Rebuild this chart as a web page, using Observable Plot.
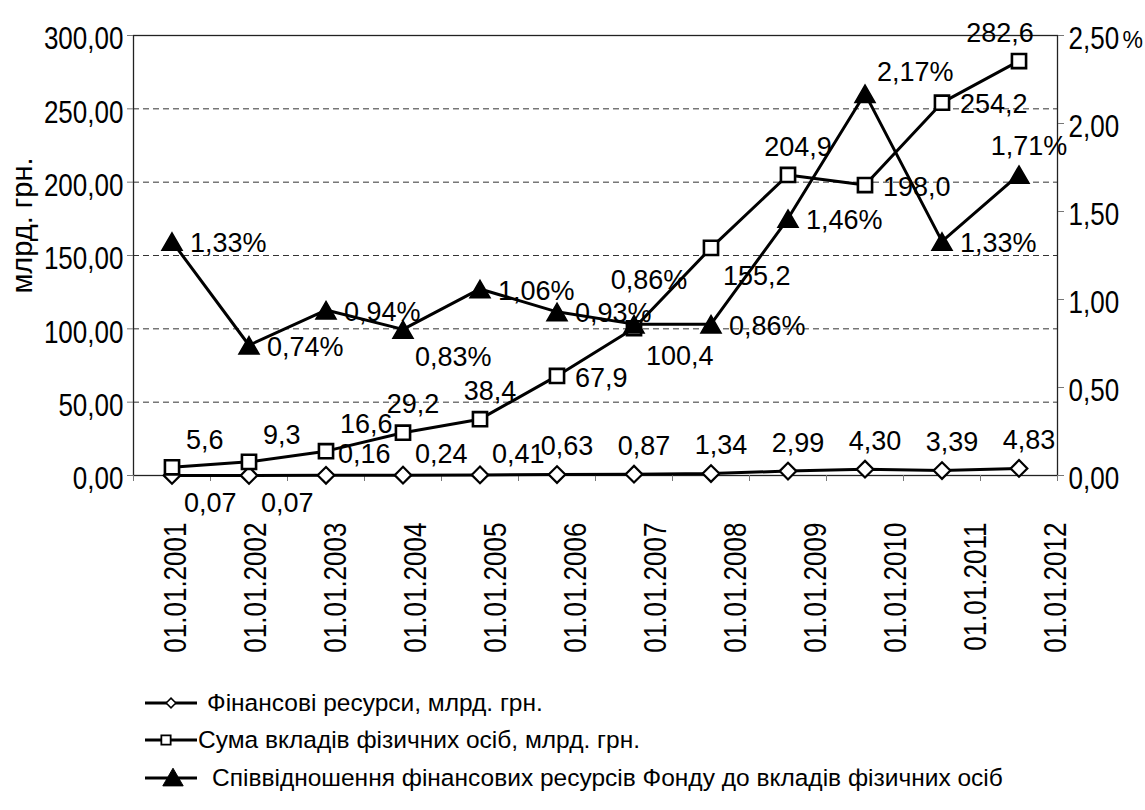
<!DOCTYPE html>
<html>
<head>
<meta charset="utf-8">
<script src="https://cdn.jsdelivr.net/npm/d3@7"></script>
<script src="https://cdn.jsdelivr.net/npm/@observablehq/plot@0.6"></script>
<style>
  html, body { margin: 0; padding: 0; background: #fff; }
  #chart { position: relative; width: 1145px; height: 810px; overflow: hidden; background: #fff; }
  #chart > .layer { position: absolute; left: 0; }
  .legend-row { position: absolute; left: 0; height: 32px; line-height: 32px; white-space: nowrap;
    font-family: "Liberation Sans", Arial, sans-serif; font-size: 24.5px; color: #000; }
  .legend-row svg { position: absolute; top: 0; }
  .legend-row span { position: absolute; top: 0; }
</style>
</head>
<body>
<div id="chart"></div>
<script>
// ---------- data ----------
const dates = ["01.01.2001","01.01.2002","01.01.2003","01.01.2004","01.01.2005","01.01.2006",
               "01.01.2007","01.01.2008","01.01.2009","01.01.2010","01.01.2011","01.01.2012"];
const finResources = [0.07, 0.07, 0.16, 0.24, 0.41, 0.63, 0.87, 1.34, 2.99, 4.30, 3.39, 4.83];
const deposits     = [5.6, 9.3, 16.6, 29.2, 38.4, 67.9, 100.4, 155.2, 204.9, 198.0, 254.2, 282.6];
const ratioPct     = [1.33, 0.74, 0.94, 0.83, 1.06, 0.93, 0.86, 0.86, 1.46, 2.17, 1.33, 1.71];
const leftTicks  = [0, 50, 100, 150, 200, 250, 300];
const rightTicks = [0, 0.5, 1, 1.5, 2, 2.5];
const seriesNames = [
  "Фінансові ресурси, млрд. грн.",
  "Сума вкладів фізичних осіб, млрд. грн.",
  "Співвідношення фінансових ресурсів Фонду до вкладів фізичних осіб"
];
const yTitle = "млрд. грн.";
const rightUnit = "%";
// data-label placement (like Excel's label position setting)
const finLabelPos = ["se","se","nel","nel","nel","n","n","n","n","n","n","n"];
const depLabelPos = ["ne","ne","ne","n","n","e","se","se","n","e","e","nw"];
const pctLabelPos = ["e","e","e","se","e","e","nn","e","e","nel","e","n"];

// ---------- styling ----------
const REGULAR = "'Liberation Sans', Arial, sans-serif";
const CONDENSE = 0.84; // emulate a narrow face for axis texts
const RATIO = 300 / 2.5; // right axis (percent) mapped onto left axis
const labelLayout = {
  n:   {textAnchor: "middle", dx: 10,  dy: -28},
  nn:  {textAnchor: "middle", dx: 15,  dy: -44},
  nw:  {textAnchor: "middle", dx: -19, dy: -28},
  ne:  {textAnchor: "start",  dx: 14,  dy: -27},
  nel: {textAnchor: "start",  dx: 12,  dy: -21},
  e:   {textAnchor: "start",  dx: 18,  dy: 2},
  se:  {textAnchor: "start",  dx: 12,  dy: 28}
};
const fmt = (v, k) => v.toFixed(k).replace(".", ",");

const rows = dates.map((date, i) => ({
  i, date,
  fin: finResources[i], dep: deposits[i], pct: ratioPct[i],
  finPos: finLabelPos[i], depPos: depLabelPos[i], pctPos: pctLabelPos[i]
}));
const X = d => d.i + 0.5;

function labelMarks(yAcc, textAcc, posKey) {
  return Object.entries(labelLayout).map(([code, o]) =>
    Plot.text(rows, {
      filter: d => d[posKey] === code,
      x: X, y: yAcc, text: textAcc,
      textAnchor: o.textAnchor, dx: o.dx, dy: o.dy,
      fontSize: 27, fontFamily: REGULAR, fill: "black"
    })
  );
}

// narrow the glyphs along the text direction (no narrow face is installed)
function condense(nodes, factor) {
  nodes.forEach(t => {
    const tr = t.getAttribute("transform");
    if (tr) {
      t.setAttribute("transform", `${tr} scale(${factor},1)`);
    } else {
      const L = t.getComputedTextLength();
      if (L > 0) {
        t.setAttribute("textLength", (L * factor).toFixed(2));
        t.setAttribute("lengthAdjust", "spacingAndGlyphs");
      }
    }
  });
}

const chart = document.getElementById("chart");

// ---------- main plot ----------
const main = Plot.plot({
  width: 1145, height: 520,
  marginLeft: 133, marginRight: 88, marginTop: 35, marginBottom: 45,
  x: {type: "linear", domain: [0, dates.length]},
  y: {domain: [0, 300]},
  style: {fontFamily: REGULAR, fontSize: "31px", color: "black", background: "transparent", overflow: "visible"},
  marks: [
    Plot.ruleY(leftTicks.slice(1, -1), {stroke: "#333", strokeDasharray: "6,4", strokeWidth: 1}),
    Plot.frame({stroke: "#222", strokeWidth: 1.3}),
    Plot.axisY(leftTicks, {anchor: "left", tickSize: 6, tickPadding: 4, tickFormat: d => fmt(d, 2),
      label: null, stroke: "#777"}),
    Plot.axisY(rightTicks.map(t => t * RATIO), {anchor: "right", tickSize: 6, tickPadding: 5,
      tickFormat: d => fmt(d / RATIO, 2), label: null, stroke: "#777"}),
    Plot.axisX(d3.range(dates.length + 1), {anchor: "bottom", tickSize: 6, tickFormat: () => "",
      label: null, stroke: "#777"}),
    // series 1
    Plot.line(rows, {x: X, y: "fin", stroke: "black", strokeWidth: 3}),
    Plot.dot(rows, {x: X, y: "fin", symbol: "diamond2", r: 7.5, fill: "white", stroke: "black", strokeWidth: 2.2}),
    // series 2
    Plot.line(rows, {x: X, y: "dep", stroke: "black", strokeWidth: 3}),
    Plot.dot(rows, {x: X, y: "dep", symbol: "square2", r: 9, fill: "white", stroke: "black", strokeWidth: 2.6}),
    // series 3 (right axis)
    Plot.line(rows, {x: X, y: d => d.pct * RATIO, stroke: "black", strokeWidth: 3}),
    Plot.dot(rows, {x: X, y: d => d.pct * RATIO, symbol: "triangle", r: 7.5, dy: 3, fill: "black", stroke: "black", strokeWidth: 1.5}),
    // data labels
    ...labelMarks("fin", d => fmt(d.fin, 2), "finPos"),
    ...labelMarks("dep", d => fmt(d.dep, 1), "depPos"),
    ...labelMarks(d => d.pct * RATIO, d => fmt(d.pct, 2) + "%", "pctPos"),
    // axis titles
    Plot.text([yTitle], {frameAnchor: "left", textAnchor: "middle", rotate: -90, dx: -111, dy: -30,
      fontSize: 29, fontFamily: REGULAR, fill: "black", ariaLabel: "y-title"}),
    Plot.text([rightUnit], {frameAnchor: "top-right", textAnchor: "start", dx: 65, dy: -4,
      fontSize: 23, fontFamily: REGULAR, fill: "black"})
  ]
});
main.classList.add("layer");
main.style.top = "0px";
chart.appendChild(main);

// axis labels: narrow look, and sit slightly below their ticks as in the reference
main.querySelectorAll('g[aria-label="y-axis tick label"]').forEach(g => {
  g.setAttribute("transform", (g.getAttribute("transform") || "") + " translate(0,4)");
  condense(g.querySelectorAll("text"), CONDENSE);
});
condense(main.querySelectorAll('g[aria-label="y-title"] text'), 0.84);

// ---------- category labels (rotated) ----------
const xl = Plot.plot({
  width: 1145, height: 140,
  marginLeft: 162, marginRight: 102, marginTop: 2, marginBottom: 0,
  x: {type: "point", domain: dates, padding: 0, axis: null},
  style: {background: "transparent", overflow: "visible"},
  marks: [
    Plot.text(dates, {x: d => d, frameAnchor: "top", rotate: -90, textAnchor: "end",
      fontSize: 31, fontFamily: REGULAR, fill: "black"})
  ]
});
xl.classList.add("layer");
xl.style.top = "520px";
chart.appendChild(xl);
condense(xl.querySelectorAll("text"), CONDENSE);

// ---------- legend ----------
const legendRows = [
  {name: seriesNames[0], cy: 703, sym: d3.symbolDiamond2, size: 60, mx: 171, fill: "white", sw: 1.5, tx: 207},
  {name: seriesNames[1], cy: 740, sym: d3.symbolSquare2, size: 110, mx: 166, fill: "white", sw: 1.8, tx: 198},
  {name: seriesNames[2], cy: 778, sym: d3.symbolTriangle, size: 180, mx: 173, fill: "black", sw: 1, tx: 212}
];
legendRows.forEach(r => {
  const row = document.createElement("div");
  row.className = "legend-row";
  row.style.top = (r.cy - 16) + "px";
  row.style.width = "1145px";
  const svg = d3.create("svg").attr("width", 70).attr("height", 32).style("left", "140px");
  svg.append("line").attr("x1", 5).attr("x2", 57).attr("y1", 16).attr("y2", 16)
    .attr("stroke", "black").attr("stroke-width", 3);
  svg.append("path").attr("d", d3.symbol(r.sym, r.size)())
    .attr("transform", `translate(${r.mx - 140},${r.sym === d3.symbolTriangle ? 18 : 16})`)
    .attr("fill", r.fill).attr("stroke", "black").attr("stroke-width", r.sw);
  row.appendChild(svg.node());
  const span = document.createElement("span");
  span.textContent = r.name;
  span.style.left = r.tx + "px";
  row.appendChild(span);
  chart.appendChild(row);
});
</script>
</body>
</html>
